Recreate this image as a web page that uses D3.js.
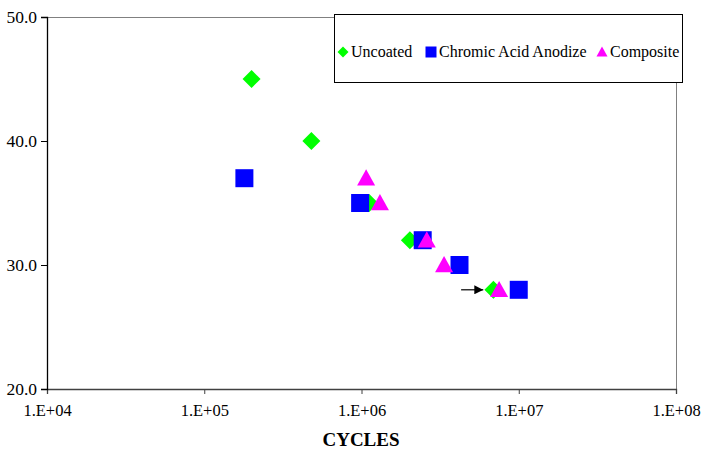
<!DOCTYPE html>
<html>
<meta charset="utf-8">
<style>
body { margin: 0; background: #fff; }
text { font-family: "Liberation Serif", "Times New Roman", serif; }
</style>
<body>
</body>
<script src="https://cdn.jsdelivr.net/npm/d3@7"></script>
<script>

// values
var uncoatedCycles = [2.0e5, 4.8e5, 1.12e6, 2.03e6, 6.9e6];
var uncoatedStress = [45, 40, 35, 32, 28];
var anodizeCycles = [1.8e5, 9.8e5, 2.45e6, 4.2e6, 1.0e7];
var anodizeStress = [37, 35, 32, 30, 28];
var compositeCycles = [1.07e6, 1.31e6, 2.6e6, 3.35e6, 7.5e6];
var compositeStress = [37, 35, 32, 30, 28];
var xTicks = [1e4, 1e5, 1e6, 1e7, 1e8];
var yTicks = [20, 30, 40, 50];
var arrowFrom = [4.3e6, 28];
var arrowTo = [5.95e6, 28];

var series = [
  { name: "Uncoated", color: "#00ff00", shape: "diamond", x: uncoatedCycles, y: uncoatedStress },
  { name: "Chromic Acid Anodize", color: "#0000ff", shape: "square", x: anodizeCycles, y: anodizeStress },
  { name: "Composite", color: "#ff00ff", shape: "triangle", x: compositeCycles, y: compositeStress }
];

var width = 701, height = 451;
var plotLeft = 47, plotRight = 676, plotTop = 17, plotBottom = 389;

var svg = d3.select("body").append("svg")
    .attr("width", width)
    .attr("height", height);

var x = d3.scaleLog().domain([1e4, 1e8]).range([plotLeft, plotRight]);
var y = d3.scaleLinear().domain([20, 50]).range([plotBottom, plotTop]);

function shapePath(shape, s) {
  var h = s / 2;
  if (shape == "diamond") return "M0," + (-h) + "L" + h + ",0L0," + h + "L" + (-h) + ",0Z";
  if (shape == "square") return "M" + (-h) + "," + (-h) + "H" + h + "V" + h + "H" + (-h) + "Z";
  // triangle, centred roughly on its middle
  var th = s * 0.9;
  return "M0," + (-th * 0.55) + "L" + h + "," + (th * 0.45) + "L" + (-h) + "," + (th * 0.45) + "Z";
}

// plot frame (top and right, grey)
svg.append("path")
  .attr("d", "M" + plotLeft + "," + (plotTop + 0.5) + "H" + (plotRight + 0.5) + "V" + plotBottom)
  .attr("fill", "none")
  .attr("stroke", "#808080")
  .attr("stroke-width", 1);

// x axis
var xAxis = svg.append("g")
    .attr("transform", "translate(0," + plotBottom + ")")
    .call(d3.axisBottom(x).tickValues(xTicks).tickSize(5).tickPadding(10)
      .tickFormat(function (d) { return "1.E+" + d3.format("02d")(Math.round(Math.log10(d))); }));
xAxis.select(".domain").attr("stroke", "#404040").attr("stroke-width", 1.3);
xAxis.selectAll(".tick line").attr("stroke", "#404040");
xAxis.selectAll("text").attr("font-size", 16.5).attr("fill", "#000")
  .style("font-family", "Liberation Serif");

// y axis
var yAxis = svg.append("g")
    .attr("transform", "translate(" + plotLeft + ",0)")
    .call(d3.axisLeft(y).tickValues(yTicks).tickSize(6).tickPadding(4)
      .tickFormat(d3.format(".1f")));
yAxis.select(".domain").attr("stroke", "#000").attr("stroke-width", 1.3);
yAxis.selectAll("text").attr("font-size", 17.5).attr("fill", "#000")
  .style("font-family", "Liberation Serif");

svg.append("text")
  .attr("x", 361)
  .attr("y", 446)
  .attr("text-anchor", "middle")
  .attr("font-size", 19)
  .attr("font-weight", "bold")
  .text("CYCLES");

// points
series.forEach(function (s) {
  svg.append("g").selectAll("path")
    .data(s.x.map(function (v, i) { return [v, s.y[i]]; }))
    .enter().append("path")
    .attr("d", shapePath(s.shape, 18))
    .attr("transform", function (d) { return "translate(" + x(d[0]) + "," + y(d[1]) + ")"; })
    .attr("fill", s.color);
});

// arrow annotation
svg.append("defs").append("marker")
  .attr("id", "arrowhead")
  .attr("viewBox", "0 0 10 10")
  .attr("refX", 10).attr("refY", 5)
  .attr("markerWidth", 9).attr("markerHeight", 9)
  .attr("markerUnits", "userSpaceOnUse")
  .attr("orient", "auto")
  .append("path").attr("d", "M0,0L10,5L0,10Z").attr("fill", "#000");

svg.append("line")
  .attr("x1", x(arrowFrom[0])).attr("y1", y(arrowFrom[1]))
  .attr("x2", x(arrowTo[0])).attr("y2", y(arrowTo[1]))
  .attr("stroke", "#000").attr("stroke-width", 1.2)
  .attr("marker-end", "url(#arrowhead)");

// legend
var legend = svg.append("g");
legend.append("rect")
  .attr("x", 334.5).attr("y", 14.5)
  .attr("width", 348).attr("height", 68)
  .attr("fill", "#fff")
  .attr("stroke", "#000").attr("stroke-width", 1);

var legendX = [343, 431, 602];
series.forEach(function (s, i) {
  legend.append("path")
    .attr("d", shapePath(s.shape, 11))
    .attr("transform", "translate(" + legendX[i] + ",52)")
    .attr("fill", s.color);
  legend.append("text")
    .attr("x", legendX[i] + 8)
    .attr("y", 57)
    .attr("font-size", 16)
    .text(s.name);
});

</script>
</html>
